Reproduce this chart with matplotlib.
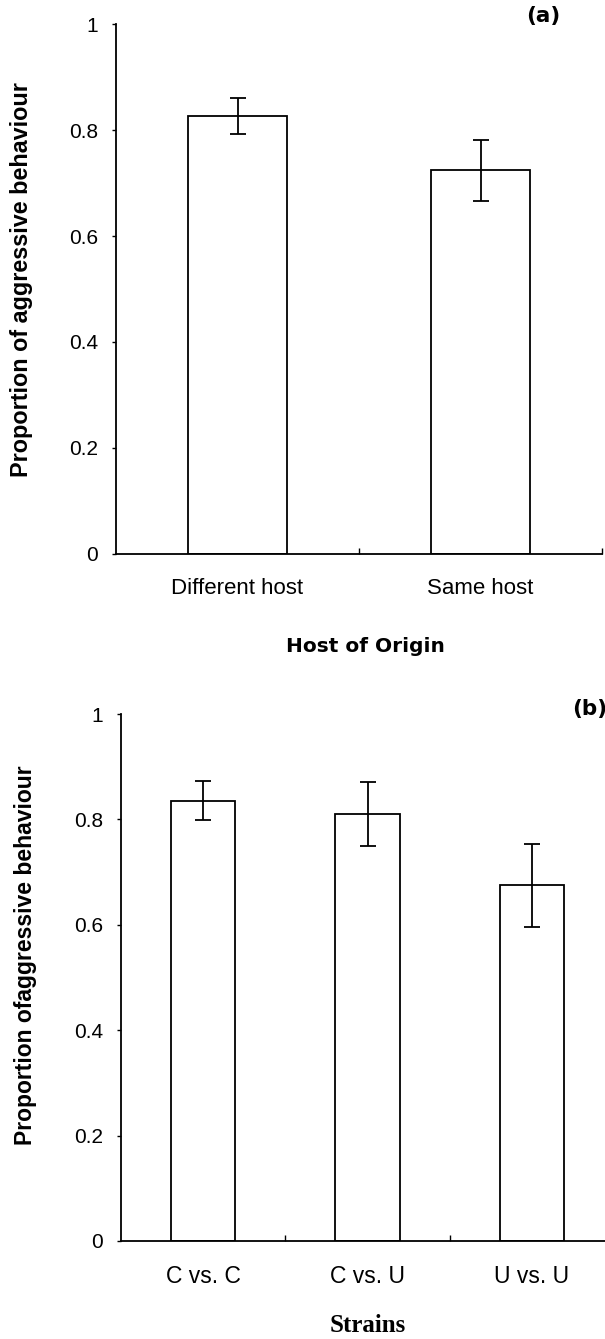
import numpy as np
import matplotlib.pyplot as plt

# datos
hosts = ["Different host", "Same host"]
host_vals = [0.827, 0.724]
host_err = [0.034, 0.058]

strains = ["C vs. C", "C vs. U", "U vs. U"]
strain_vals = [0.835, 0.810, 0.675]
strain_err = [0.037, 0.061, 0.079]

yticks = [0, 0.2, 0.4, 0.6, 0.8, 1]
ytick_labels = ["0", "0.2", "0.4", "0.6", "0.8", "1"]

W, H = 605, 1339
fig = plt.figure(figsize=(W / 100, H / 100), dpi=100)
fig.patch.set_facecolor("white")


def px(x, y):
    # pixeles de la imagen -> fraccion de figura
    return x / W, 1 - y / H


def panel(rect, cats, vals, errs, bar_w, tick_size):
    ax = fig.add_axes(rect)
    x = np.arange(1, len(cats) + 1)
    ax.bar(x, vals, width=bar_w, color="white", edgecolor="black", linewidth=1.3)
    ax.errorbar(x, vals, yerr=errs, fmt="none", ecolor="black", elinewidth=1.3,
                capsize=5.5, capthick=1.3)
    ax.set_xlim(0.5, len(cats) + 0.5)
    ax.set_ylim(0, 1)
    ax.set_yticks(yticks)
    ax.set_yticklabels(ytick_labels, fontsize=15, family="Liberation Sans")
    ax.tick_params(axis="y", direction="out", length=3, width=1, pad=10)
    # etiquetas en el centro, marcas pequenas entre categorias
    ax.set_xticks(x)
    ax.set_xticklabels(cats, fontsize=tick_size, family="Liberation Sans")
    ax.tick_params(axis="x", which="major", length=0, pad=17)
    ax.set_xticks(np.arange(1.5, len(cats) + 1, 1), minor=True)
    ax.tick_params(axis="x", which="minor", direction="in", length=4, width=1)
    for s in ["top", "right"]:
        ax.spines[s].set_visible(False)
    for s in ["left", "bottom"]:
        ax.spines[s].set_linewidth(1.3)
    return ax


# (a)
l, b = px(116, 554)
ax1 = panel([l, b, (602 - 116) / W, 530 / H], hosts, host_vals, host_err, 0.41, 16)
fig.text(*px(365, 647), "Host of Origin", ha="center", va="center",
         fontsize=14.5, fontweight="bold", family="DejaVu Sans")
fig.text(*px(22, 280), "Proportion of aggressive behaviour", rotation=90,
         ha="center", va="center", fontsize=16.8, fontweight="bold",
         family="Liberation Sans")
fig.text(*px(543, 16), "(a)", ha="center", va="center", fontsize=15.5,
         fontweight="bold", family="DejaVu Sans")

# (b)
l, b = px(121, 1241)
ax2 = panel([l, b, (614 - 121) / W, 527 / H], strains, strain_vals, strain_err, 0.39, 16.5)
fig.text(*px(368, 1325), "Strains", ha="center", va="center",
         fontsize=18, fontweight="bold", family="Liberation Serif")
fig.text(*px(26, 955), "Proportion ofaggressive behaviour", rotation=90,
         ha="center", va="center", fontsize=16.5, fontweight="bold",
         family="Liberation Sans")
fig.text(*px(590, 709), "(b)", ha="center", va="center", fontsize=15.5,
         fontweight="bold", family="DejaVu Sans")

plt.savefig("out.png", dpi=100)
